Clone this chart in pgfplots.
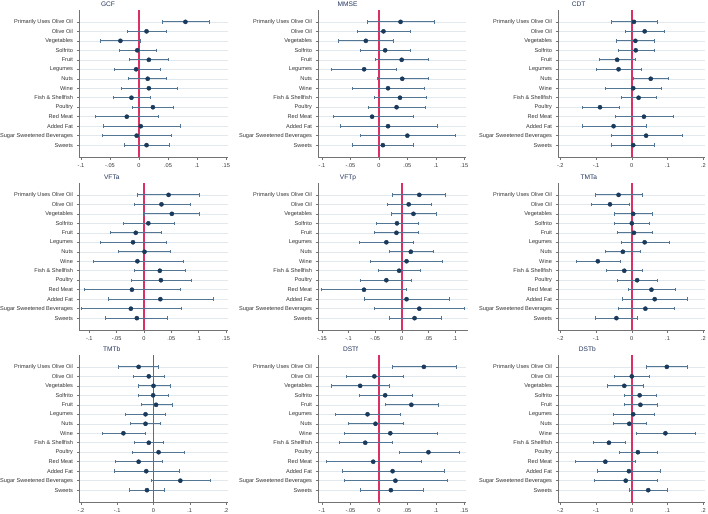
\documentclass[border=0pt]{standalone}
\usepackage{pgfplots}
\usepackage{pgfplotstable}
\usepackage{fontspec}
\setmainfont{Liberation Sans}
\pgfplotsset{compat=1.18}

\definecolor{cinav}{RGB}{82,118,148}
\definecolor{ptnav}{RGB}{26,58,92}
\definecolor{zred}{RGB}{218,48,100}
\definecolor{gridc}{RGB}{226,233,238}
\definecolor{axgray}{RGB}{115,115,115}
\definecolor{titc}{RGB}{34,52,92}

% y: 1 = top row ... 14 = bottom row; c = estimate, lo/hi = 95% CI
\pgfplotstableread{
y c lo hi
1 .080 .040 .122
2 .013 -.020 .047
3 -.032 -.066 .003
4 -.003 -.034 .030
5 .017 -.016 .050
6 -.005 -.043 .036
7 .015 -.018 .047
8 .017 -.031 .066
9 -.013 -.044 .020
10 .024 -.011 .059
11 -.021 -.075 .033
12 .003 -.061 .071
13 -.004 -.064 .056
14 .013 -.025 .053
}\tGCF
\pgfplotstableread{
y c lo hi
1 .038 -.021 .098
2 .008 -.038 .056
3 -.023 -.071 .026
4 .011 -.033 .056
5 .040 -.006 .087
6 -.026 -.083 .031
7 .041 -.003 .087
8 .016 -.047 .080
9 .037 -.008 .083
10 .031 -.018 .081
11 -.012 -.081 .061
12 .016 -.067 .102
13 .050 -.033 .135
14 .007 -.046 .061
}\tMMSE
\pgfplotstableread{
y c lo hi
1 .006 -.058 .070
2 .036 -.017 .090
3 .010 -.044 .064
4 .011 -.038 .062
5 -.041 -.091 .009
6 -.037 -.100 .027
7 .053 .005 .103
8 .004 -.074 .082
9 .019 -.030 .069
10 -.089 -.139 -.035
11 .034 -.047 .116
12 -.051 -.139 .041
13 .040 -.058 .141
14 .004 -.056 .063
}\tCDT
\pgfplotstableread{
y c lo hi
1 .045 -.013 .102
2 .032 -.018 .084
3 .051 .001 .102
4 .008 -.038 .055
5 -.015 -.062 .032
6 -.020 -.080 .040
7 .001 -.047 .049
8 -.012 -.093 .072
9 .029 -.018 .076
10 .031 -.023 .086
11 -.022 -.109 .066
12 .030 -.065 .126
13 -.024 -.115 .068
14 -.013 -.070 .043
}\tVFTa
\pgfplotstableread{
y c lo hi
1 .033 -.017 .082
2 .013 -.028 .056
3 .022 -.020 .065
4 -.009 -.047 .032
5 -.010 -.051 .031
6 -.029 -.079 .022
7 .017 -.024 .059
8 .009 -.059 .076
9 -.005 -.044 .035
10 -.029 -.078 .018
11 -.071 -.151 .009
12 .009 -.070 .090
13 .033 -.051 .118
14 .024 -.024 .075
}\tVFTp
\pgfplotstableread{
y c lo hi
1 -.037 -.101 .030
2 -.061 -.112 -.007
3 .004 -.048 .056
4 .000 -.048 .050
5 .006 -.041 .056
6 .036 -.028 .104
7 -.025 -.075 .025
8 -.095 -.155 -.032
9 -.021 -.070 .029
10 .015 -.041 .072
11 .055 -.010 .121
12 .064 -.026 .154
13 .038 -.037 .119
14 -.043 -.101 .016
}\tTMTa
\pgfplotstableread{
y c lo hi
1 -.041 -.097 .014
2 -.013 -.057 .031
3 .000 -.043 .047
4 -.001 -.042 .041
5 .007 -.035 .051
6 -.022 -.077 .033
7 -.022 -.064 .020
8 -.083 -.141 -.023
9 -.013 -.054 .028
10 .014 -.058 .086
11 -.041 -.106 .025
12 -.020 -.109 .071
13 .074 -.007 .158
14 -.018 -.067 .030
}\tTMTb
\pgfplotstableread{
y c lo hi
1 .079 .023 .136
2 -.008 -.058 .042
3 -.033 -.084 .018
4 .011 -.035 .058
5 .057 .011 .104
6 -.020 -.077 .038
7 -.006 -.054 .042
8 .020 -.060 .102
9 -.024 -.070 .023
10 .087 .035 .141
11 -.010 -.093 .074
12 .024 -.064 .115
13 .029 -.061 .121
14 .021 -.033 .078
}\tDSTf
\pgfplotstableread{
y c lo hi
1 .098 .041 .155
2 .000 -.048 .048
3 -.021 -.069 .031
4 .022 -.021 .069
5 .024 -.022 .071
6 .004 -.052 .062
7 -.007 -.052 .041
8 .094 .013 .177
9 -.064 -.107 -.017
10 .017 -.036 .070
11 -.074 -.157 .011
12 -.008 -.096 .081
13 -.017 -.104 .071
14 .046 -.008 .100
}\tDSTb

\pgfplotsset{
  coefp/.style={
    scale only axis, height=147.5pt,
    y dir=reverse, ymin=-0.25, ymax=15.3,
    ytick={1,...,14},
    yticklabels={Primarily Uses Olive Oil,Olive Oil,Vegetables,Solfrito,Fruit,Legumes,Nuts,Wine,{Fish \& Shellfish},Poultry,Red Meat,Added Fat,Sugar Sweetened Beverages,Sweets},
    axis x line*=bottom, axis y line*=left,
    axis line style={axgray, line width=0.6pt, -},
    tick align=outside,
    major tick length=2.2pt,
    tick style={axgray, line width=0.5pt},
    ymajorgrids, grid style={gridc, line width=0.5pt},
    ticklabel style={font=\fontsize{5.6}{6}\selectfont, text=black!80},
    yticklabel style={xshift=-0.3pt},
    xticklabel style={yshift=-0.5pt},
    title style={font=\fontsize{6.6}{7}\selectfont, text=titc, anchor=base, yshift=-2.2pt},
    clip=false,
  },
  cplot/.style={
    only marks, mark=*, mark size=2.1pt,
    mark options={fill=ptnav, draw=ptnav},
    error bars/.cd, x dir=both, x explicit,
    error bar style={cinav, line width=0.8pt},
    error mark options={cinav, mark size=1.7pt, line width=0.6pt, rotate=90},
  },
}
\newcommand{\zline}{\draw[zred, line width=1.5pt] (axis cs:0,-0.25) -- (axis cs:0,15.3);}
\newcommand{\cp}[1]{\addplot[cplot] table[x=c, y=y, x error minus expr=\thisrow{c}-\thisrow{lo}, x error plus expr=\thisrow{hi}-\thisrow{c}] {#1};}

\begin{document}
\begin{tikzpicture}
% row 1
\begin{axis}[coefp, at={(79pt,355.5pt)}, anchor=south west, width=149pt,
  xmin=-0.1034, xmax=0.1534, xtick={-0.1,-0.05,0,0.05,0.1,0.15},
  xticklabels={-.1,-.05,0,.05,.1,.15},
  title={GCF}, title style={at={(rel axis cs:0.195,1)}}]
\zline \cp{\tGCF}
\end{axis}
\begin{axis}[coefp, at={(318pt,355.5pt)}, anchor=south west, width=148pt,
  xmin=-0.107, xmax=0.153, xtick={-0.1,-0.05,0,0.05,0.1,0.15},
  xticklabels={-.1,-.05,0,.05,.1,.15},
  title={MMSE}, title style={at={(rel axis cs:0.2,1)}}]
\zline \cp{\tMMSE}
\end{axis}
\begin{axis}[coefp, at={(558pt,355.5pt)}, anchor=south west, width=147pt,
  xmin=-0.2064, xmax=0.2048, xtick={-0.2,-0.1,0,0.1,0.2},
  xticklabels={-.2,-.1,0,.1,.2},
  title={CDT}, title style={at={(rel axis cs:0.14,1)}}]
\zline \cp{\tCDT}
\end{axis}
% row 2
\begin{axis}[coefp, at={(79pt,182.5pt)}, anchor=south west, width=149pt,
  xmin=-0.1188, xmax=0.1537, xtick={-0.1,-0.05,0,0.05,0.1,0.15},
  xticklabels={-.1,-.05,0,.05,.1,.15},
  title={VFTa}, title style={at={(rel axis cs:0.22,1)}}]
\zline \cp{\tVFTa}
\end{axis}
\begin{axis}[coefp, at={(318pt,182.5pt)}, anchor=south west, width=149.7pt,
  xmin=-0.1575, xmax=0.124, xtick={-0.15,-0.1,-0.05,0,0.05,0.1},
  xticklabels={-.15,-.1,-.05,0,.05,.1},
  title={VFTp}, title style={at={(rel axis cs:0.2,1)}}]
\zline \cp{\tVFTp}
\end{axis}
\begin{axis}[coefp, at={(558pt,182.5pt)}, anchor=south west, width=147pt,
  xmin=-0.2064, xmax=0.2048, xtick={-0.2,-0.1,0,0.1,0.2},
  xticklabels={-.2,-.1,0,.1,.2},
  title={TMTa}, title style={at={(rel axis cs:0.21,1)}}]
\zline \cp{\tTMTa}
\end{axis}
% row 3
\begin{axis}[coefp, at={(79pt,10.5pt)}, anchor=south west, width=149pt,
  xmin=-0.2055, xmax=0.2055, xtick={-0.2,-0.1,0,0.1,0.2},
  xticklabels={-.2,-.1,0,.1,.2},
  title={TMTb}, title style={at={(rel axis cs:0.22,1)}}]
\zline \cp{\tTMTb}
\end{axis}
\begin{axis}[coefp, at={(318pt,10.5pt)}, anchor=south west, width=148pt,
  xmin=-0.107, xmax=0.153, xtick={-0.1,-0.05,0,0.05,0.1,0.15},
  xticklabels={-.1,-.05,0,.05,.1,.15},
  title={DSTf}, title style={at={(rel axis cs:0.22,1)}}]
\zline \cp{\tDSTf}
\end{axis}
\begin{axis}[coefp, at={(558pt,10.5pt)}, anchor=south west, width=147pt,
  xmin=-0.2064, xmax=0.2048, xtick={-0.2,-0.1,0,0.1,0.2},
  xticklabels={-.2,-.1,0,.1,.2},
  title={DSTb}, title style={at={(rel axis cs:0.2,1)}}]
\zline \cp{\tDSTb}
\end{axis}
\pgfresetboundingbox
\path (0pt,0pt) rectangle (708pt,513pt);
\end{tikzpicture}
\end{document}
